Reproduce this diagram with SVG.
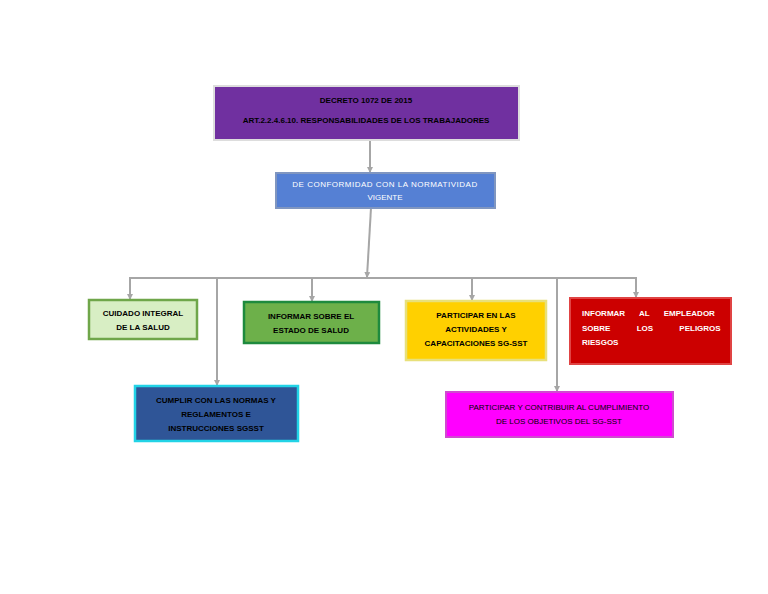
<svg xmlns="http://www.w3.org/2000/svg" width="768" height="594" viewBox="0 0 768 594">
<defs>
<style>
text{font-family:"Liberation Sans",Arial,sans-serif;font-weight:bold;font-size:8px;text-anchor:middle}
text.l{text-anchor:start;fill:#fff}
text.n{font-weight:normal}
.c line{stroke:#a6a6a6;stroke-width:2}
.a line{marker-end:url(#ar)}
</style>
<marker id="ar" viewBox="0 0 6 6" refX="5" refY="3" markerWidth="3" markerHeight="3" orient="auto"><path d="M0,0L6,3L0,6z" fill="#a6a6a6"/></marker>
</defs>
<rect width="768" height="594" fill="#fff"/>
<g class="c">
<line x1="370" y1="140" x2="370" y2="172" style="marker-end:url(#ar)"/>
<line x1="371" y1="208" x2="367" y2="277" style="marker-end:url(#ar)"/>
<line x1="129" y1="278" x2="637" y2="278"/>
<g class="a">
<line x1="130" y1="278" x2="130" y2="299"/>
<line x1="217" y1="278" x2="217" y2="385"/>
<line x1="312" y1="278" x2="312" y2="301"/>
<line x1="472" y1="278" x2="472" y2="300"/>
<line x1="557" y1="278" x2="557" y2="391"/>
<line x1="636" y1="278" x2="636" y2="297"/>
</g>
</g>
<g id="n1"><rect x="214" y="86" width="305" height="54" fill="#7030A0" stroke="#ddd" stroke-width="2"/>
<text x="366" y="103">DECRETO 1072 DE 2015</text>
<text x="366" y="123">ART.2.2.4.6.10. RESPONSABILIDADES DE LOS TRABAJADORES</text></g>
<g id="n2"><rect x="276" y="173" width="219" height="35" fill="#5580D4" stroke="#8096c0" stroke-width="2"/>
<text class="n" x="385" y="187" fill="#fff" letter-spacing="0.5">DE CONFORMIDAD CON LA NORMATIVIDAD</text>
<text class="n" x="385" y="200" fill="#fff">VIGENTE</text></g>
<g id="n3"><rect x="89" y="300" width="108" height="39" fill="#D8EEC4" stroke="#6FA64A" stroke-width="2.5"/>
<text x="143" y="316">CUIDADO INTEGRAL</text><text x="143" y="330">DE LA SALUD</text></g>
<g id="n4"><rect x="244" y="302" width="135" height="41" fill="#6DB04A" stroke="#1E8A3E" stroke-width="2.5"/>
<text x="311" y="319">INFORMAR SOBRE EL</text><text x="311" y="333">ESTADO DE SALUD</text></g>
<g id="n5"><rect x="406" y="301" width="140" height="59" fill="#FFD000" stroke="#e8e07a" stroke-width="2.5"/>
<text x="476" y="318">PARTICIPAR EN LAS</text><text x="476" y="332">ACTIVIDADES Y</text><text x="476" y="346">CAPACITACIONES SG-SST</text></g>
<g id="n6"><rect x="570" y="298" width="161" height="66" fill="#CC0000" stroke="#e04444" stroke-width="2"/>
<text class="l" x="582" y="316" word-spacing="12">INFORMAR AL EMPLEADOR</text>
<text class="l" x="582" y="331" word-spacing="24">SOBRE LOS PELIGROS Y</text>
<text class="l" x="582" y="345">RIESGOS</text></g>
<g id="n7"><rect x="135" y="386" width="163" height="55" fill="#2F5597" stroke="#22D3E6" stroke-width="2.5"/>
<text x="216" y="403">CUMPLIR CON LAS NORMAS Y</text><text x="216" y="417">REGLAMENTOS E</text><text x="216" y="431">INSTRUCCIONES SGSST</text></g>
<g id="n8"><rect x="446" y="392" width="227" height="45" fill="#FF00FF" stroke="#d04ad0" stroke-width="2"/>
<text class="n" x="559" y="410">PARTICIPAR Y CONTRIBUIR AL CUMPLIMIENTO</text>
<text class="n" x="559" y="424">DE LOS OBJETIVOS DEL SG-SST</text></g>
</svg>
